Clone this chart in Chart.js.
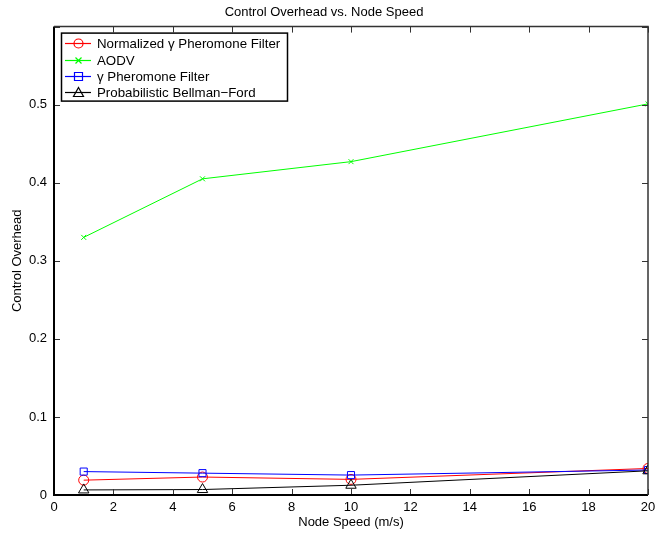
<!DOCTYPE html>
<html>
<head>
<meta charset="utf-8">
<script src="https://cdn.jsdelivr.net/npm/chart.js@4/dist/chart.umd.min.js"></script>
<style>
  html, body { margin: 0; background: #fff; }
  #wrap { width: 655px; height: 535px; }
</style>
</head>
<body>
<div id="wrap"><canvas id="chart"></canvas></div>
<script>
// values
const speeds = [1, 5, 10, 20];
const normalizedGamma = [0.019, 0.023, 0.020, 0.034];
const aodv = [0.330, 0.405, 0.427, 0.501];
const gammaFilter = [0.030, 0.028, 0.0255, 0.032];
const bellmanFord = [0.0065, 0.007, 0.0125, 0.031];
const seriesNames = ['Normalized γ Pheromone Filter', 'AODV', 'γ Pheromone Filter', 'Probabilistic Bellman\u2212Ford'];
const xTicks = [0, 2, 4, 6, 8, 10, 12, 14, 16, 18, 20];
const yTicks = [0, 0.1, 0.2, 0.3, 0.4, 0.5, 0.6];

const FONT = 'Liberation Sans, Arial, Helvetica, sans-serif';

function toPoints(values) {
  return speeds.map((s, i) => ({ x: s, y: values[i] }));
}

const colors = ['#ff0000', '#00ff00', '#0000ff', '#000000'];
const styles = ['circle', 'crossRot', 'rect', 'triangle'];
const radii = [5, 3.5, 5, 6];
const seriesValues = [normalizedGamma, aodv, gammaFilter, bellmanFord];

const datasets = seriesValues.map((vals, i) => ({
  label: seriesNames[i],
  data: toPoints(vals),
  borderColor: colors[i],
  backgroundColor: 'transparent',
  borderWidth: 1,
  pointStyle: styles[i],
  pointRadius: radii[i],
  pointBorderColor: colors[i],
  pointBackgroundColor: 'transparent',
  pointBorderWidth: 1,
  tension: 0,
  order: 4 - i
}));

// matlab style legend: short line with the marker on it, boxed, inside the axes
function drawLegend(chart) {
  const { ctx, chartArea: a } = chart;
  const left = a.left + 7, top = a.top + 6;
  const rowH = 16.4;
  ctx.save();
  ctx.font = '13.3px ' + FONT;
  ctx.textBaseline = 'middle';
  let maxW = 0;
  chart.data.datasets.forEach(ds => { maxW = Math.max(maxW, ctx.measureText(ds.label).width); });
  const w = Math.round(36 + maxW + 7), h = Math.round(rowH * 4 + 2);
  ctx.fillStyle = '#fff';
  ctx.fillRect(left, top, w, h);
  chart.data.datasets.forEach((ds, i) => {
    const cy = Math.round(top + 10.5 + i * rowH) + 0.5;
    ctx.strokeStyle = ds.borderColor;
    ctx.lineWidth = 1.2;
    ctx.beginPath(); ctx.moveTo(left + 4, cy); ctx.lineTo(left + 30, cy); ctx.stroke();
    const cx = left + 17.5;
    ctx.beginPath();
    if (ds.pointStyle === 'circle') {
      ctx.arc(cx, cy, 4.5, 0, Math.PI * 2);
    } else if (ds.pointStyle === 'crossRot') {
      ctx.moveTo(cx - 3, cy - 3); ctx.lineTo(cx + 3, cy + 3);
      ctx.moveTo(cx + 3, cy - 3); ctx.lineTo(cx - 3, cy + 3);
    } else if (ds.pointStyle === 'rect') {
      ctx.rect(cx - 4, cy - 4, 8, 8);
    } else {
      ctx.moveTo(cx, cy - 5); ctx.lineTo(cx + 5, cy + 4); ctx.lineTo(cx - 5, cy + 4); ctx.closePath();
    }
    ctx.stroke();
    ctx.fillStyle = '#000';
    ctx.fillText(ds.label, left + 36, cy + 0.5);
  });
  ctx.strokeStyle = '#000';
  ctx.lineWidth = 1.5;
  ctx.strokeRect(left + 0.5, top + 0.5, w, h);
  ctx.restore();
}

// frame with inward ticks + legend
const matlabFrame = {
  id: 'matlabFrame',
  afterDraw(chart) {
    const { ctx, chartArea: a, scales } = chart;
    const len = 6;
    ctx.save();
    ctx.strokeStyle = '#333';
    ctx.lineWidth = 1;
    ctx.beginPath();
    xTicks.forEach(v => {
      const px = Math.round(scales.x.getPixelForValue(v)) + 0.5;
      ctx.moveTo(px, a.bottom); ctx.lineTo(px, a.bottom - len);
      ctx.moveTo(px, a.top); ctx.lineTo(px, a.top + len);
    });
    yTicks.forEach(v => {
      const py = Math.round(scales.y.getPixelForValue(v)) + 0.5;
      ctx.moveTo(a.left, py); ctx.lineTo(a.left + len, py);
      ctx.moveTo(a.right, py); ctx.lineTo(a.right - len, py);
    });
    ctx.stroke();

    ctx.strokeStyle = '#000';
    ctx.lineWidth = 2;
    ctx.beginPath();
    ctx.moveTo(a.left, a.top); ctx.lineTo(a.left, a.bottom); ctx.lineTo(a.right, a.bottom);
    ctx.stroke();
    ctx.strokeStyle = '#333';
    ctx.lineWidth = 1.5;
    ctx.beginPath();
    ctx.moveTo(a.left, a.top); ctx.lineTo(a.right, a.top); ctx.lineTo(a.right, a.bottom);
    ctx.stroke();
    ctx.restore();

    drawLegend(chart);
  }
};

new Chart(document.getElementById('chart'), {
  type: 'line',
  data: { datasets },
  plugins: [matlabFrame],
  options: {
    responsive: true,
    maintainAspectRatio: false,
    animation: false,
    layout: { padding: { left: 0, right: 7, top: 0, bottom: 0 } },
    plugins: {
      tooltip: { enabled: false },
      legend: { display: false },
      title: {
        display: true,
        text: 'Control Overhead vs. Node Speed',
        color: '#000',
        font: { family: FONT, size: 13, weight: 'normal' },
        padding: { top: 5, bottom: 6 }
      }
    },
    scales: {
      x: {
        type: 'linear',
        min: 0,
        max: 20,
        grid: { display: false, drawTicks: false },
        border: { display: false },
        ticks: { stepSize: 2, color: '#000', padding: 5, maxRotation: 0, font: { family: FONT, size: 13 } },
        title: { display: true, text: 'Node Speed (m/s)', color: '#000', font: { family: FONT, size: 13 }, padding: { top: 2, bottom: 5 } },
        afterFit: s => { s.height = 40; s.paddingLeft = 0; s.paddingRight = 0; }
      },
      y: {
        min: 0,
        max: 0.6,
        grid: { display: false, drawTicks: false },
        border: { display: false },
        ticks: {
          stepSize: 0.1,
          color: '#000',
          padding: 7,
          font: { family: FONT, size: 13 },
          callback: v => (v >= 0.59 ? '' : (v === 0 ? '0' : v.toFixed(1)))
        },
        title: { display: true, text: 'Control Overhead', color: '#000', font: { family: FONT, size: 13 }, padding: { top: 10, bottom: 6 } },
        afterFit: s => { s.width = 54; s.paddingTop = 0; s.paddingBottom = 0; }
      }
    }
  }
});
</script>
</body>
</html>
